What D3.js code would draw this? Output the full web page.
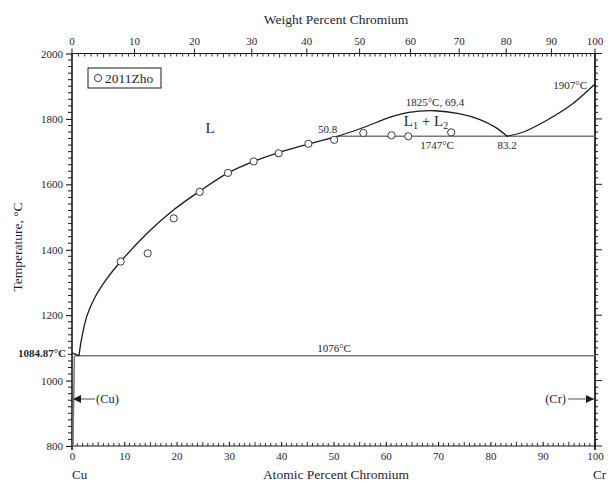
<!DOCTYPE html>
<html>
<head>
<meta charset="utf-8">
<script src="https://cdn.jsdelivr.net/npm/d3@7"></script>
<style>
  body { margin: 0; background: #fff; }
  svg text { font-family: "Liberation Serif", "DejaVu Serif", serif; fill: #1e1e38; }
</style>
</head>
<body>
<svg id="chart" width="611" height="484"></svg>
<script>
// Cu–Cr phase diagram: temperature vs. atomic percent chromium

// Axis ticks
const atomicTicks = [0, 10, 20, 30, 40, 50, 60, 70, 80, 90, 100];
const weightTicks = [0, 10, 20, 30, 40, 50, 60, 70, 80, 90, 100];
const tempTicks = [800, 1000, 1200, 1400, 1600, 1800, 2000];

// Atomic masses for the weight-percent scale
const massCu = 63.546;
const massCr = 51.996;

// Phase boundaries as [at.% Cr, °C]
const cuMeltSegment = [[0, 1084.87], [1.34, 1076]];
const cuSolvus = [[0.45, 1076], [0.35, 960], [0.25, 880], [0.2, 800]];
const liquidusCu = [[1.34, 1076], [1.8, 1125], [2.9, 1200], [4.5, 1258], [6.5, 1308],
  [9.31, 1364], [14.47, 1452], [19.45, 1522], [24.42, 1579], [29.83, 1635],
  [34.74, 1670], [39.52, 1697], [45.2, 1723], [50.8, 1747]];
const gapDome = [[50.8, 1747], [55.6, 1773], [61, 1806], [64.4, 1820], [69.4, 1825],
  [74, 1816], [78, 1798], [80.9, 1775], [83.2, 1747]];
const liquidusCr = [[83.2, 1747], [86.3, 1760], [90.8, 1796], [95.2, 1840], [100, 1907]];

// Invariant lines
const monotecticT = 1747;
const monotecticStart = 50.8;
const eutecticT = 1076;
const eutecticStart = 0.45;

// 2011Zho measurements [at.% Cr, °C]
const zhoX = [9.31, 14.47, 19.45, 24.42, 29.83, 34.74, 39.52, 45.2, 50.13, 55.7, 61.1, 64.3, 72.5];
const zhoT = [1364, 1389, 1496, 1577, 1635, 1670, 1695, 1724, 1736, 1757, 1750, 1747, 1759];

const svg = d3.select("#chart");
const x = d3.scaleLinear().domain([0, 100]).range([72, 595]);
const y = d3.scaleLinear().domain([800, 2000]).range([446, 53.5]);

const wtToAt = w => (w / massCr) / ((w / massCr) + ((100 - w) / massCu)) * 100;

const ink = "#1b1b1b";
const grey = "#7a7a7a";

// ---- Axes frame ----
// Left temperature axis
const left = svg.append("g").attr("transform", `translate(${x(0)},0)`)
  .call(d3.axisLeft(y).tickValues(tempTicks).tickSize(6).tickPadding(3).tickFormat(d3.format("d")));
left.selectAll("text").attr("font-size", 11);
left.select(".domain").remove();
svg.append("g").selectAll("line").data(d3.range(800, 2001, 20).filter(t => t % 200 !== 0)).join("line")
  .attr("x1", x(0) - 4).attr("x2", x(0)).attr("y1", d => y(d)).attr("y2", d => y(d))
  .attr("stroke", ink).attr("stroke-width", 1);

// Right axis ticks
svg.append("g").selectAll("line").data(d3.range(800, 2001, 20)).join("line")
  .attr("x1", x(100)).attr("x2", d => x(100) + (d % 200 === 0 ? 7 : 3))
  .attr("y1", d => y(d)).attr("y2", d => y(d))
  .attr("stroke", ink).attr("stroke-width", 1);

// Bottom atomic percent axis
const bottom = svg.append("g").attr("transform", `translate(0,${y(800)})`)
  .call(d3.axisBottom(x).tickValues(atomicTicks).tickSize(-4).tickPadding(6).tickFormat(d3.format("d")));
bottom.selectAll("text").attr("font-size", 11);
bottom.select(".domain").remove();
svg.append("g").selectAll("line").data(d3.range(0, 101, 1).filter(v => v % 10 !== 0)).join("line")
  .attr("x1", d => x(d)).attr("x2", d => x(d))
  .attr("y1", y(800)).attr("y2", d => y(800) - (d % 5 === 0 ? 4 : 3))
  .attr("stroke", ink).attr("stroke-width", 0.9);

// Top weight percent axis
const topG = svg.append("g");
topG.selectAll("line.maj").data(weightTicks).join("line").attr("class", "maj")
  .attr("x1", d => x(wtToAt(d))).attr("x2", d => x(wtToAt(d)))
  .attr("y1", y(2000) - 5).attr("y2", y(2000) + 3)
  .attr("stroke", ink).attr("stroke-width", 1);
topG.selectAll("line.min").data(d3.range(0, 101, 1).filter(v => v % 10 !== 0)).join("line").attr("class", "min")
  .attr("x1", d => x(wtToAt(d))).attr("x2", d => x(wtToAt(d)))
  .attr("y1", y(2000)).attr("y2", d => y(2000) + (d % 5 === 0 ? 4 : 3))
  .attr("stroke", ink).attr("stroke-width", 0.9);
topG.selectAll("text").data(weightTicks).join("text")
  .attr("x", d => x(wtToAt(d))).attr("y", y(2000) - 9)
  .attr("text-anchor", "middle").attr("font-size", 11).text(d => d);

// Frame lines
svg.append("line").attr("x1", x(0)).attr("x2", x(100)).attr("y1", y(2000)).attr("y2", y(2000))
  .attr("stroke", ink).attr("stroke-width", 1.2);
svg.append("line").attr("x1", x(0)).attr("x2", x(100)).attr("y1", y(800)).attr("y2", y(800))
  .attr("stroke", ink).attr("stroke-width", 1.2);
svg.append("line").attr("x1", x(0)).attr("x2", x(0)).attr("y1", y(800) + 4).attr("y2", y(2000))
  .attr("stroke", ink).attr("stroke-width", 1.6);
svg.append("line").attr("x1", x(100)).attr("x2", x(100)).attr("y1", y(800) + 4).attr("y2", y(2000))
  .attr("stroke", ink).attr("stroke-width", 1.8);

// ---- Axis titles ----
svg.append("text").attr("x", 336).attr("y", 24).attr("text-anchor", "middle")
  .attr("font-size", 13.5).text("Weight Percent Chromium");
svg.append("text").attr("x", 336).attr("y", 479).attr("text-anchor", "middle")
  .attr("font-size", 13.5).text("Atomic Percent Chromium");
svg.append("text").attr("transform", "translate(22,247) rotate(-90)").attr("text-anchor", "middle")
  .attr("font-size", 13.5).text("Temperature, °C");
svg.append("text").attr("x", 72).attr("y", 479).attr("font-size", 13).text("Cu");
svg.append("text").attr("x", 593).attr("y", 479).attr("font-size", 13).text("Cr");

// ---- Invariant horizontals ----
svg.append("line").attr("x1", x(eutecticStart)).attr("x2", x(100))
  .attr("y1", y(eutecticT)).attr("y2", y(eutecticT))
  .attr("stroke", grey).attr("stroke-width", 1.5);
svg.append("line").attr("x1", x(monotecticStart)).attr("x2", x(100))
  .attr("y1", y(monotecticT)).attr("y2", y(monotecticT))
  .attr("stroke", grey).attr("stroke-width", 1.5);

// ---- Phase boundary curves ----
const line = d3.line().x(d => x(d[0])).y(d => y(d[1]));
const smooth = d3.line().x(d => x(d[0])).y(d => y(d[1])).curve(d3.curveCatmullRom.alpha(0.5));
svg.append("path").attr("d", line(cuMeltSegment)).attr("fill", "none").attr("stroke", ink).attr("stroke-width", 1.3);
svg.append("path").attr("d", smooth(cuSolvus)).attr("fill", "none").attr("stroke", grey).attr("stroke-width", 1.5);
svg.append("path").attr("d", smooth(liquidusCu)).attr("fill", "none").attr("stroke", ink).attr("stroke-width", 1.3);
svg.append("path").attr("d", smooth(gapDome)).attr("fill", "none").attr("stroke", ink).attr("stroke-width", 1.3);
svg.append("path").attr("d", smooth(liquidusCr)).attr("fill", "none").attr("stroke", ink).attr("stroke-width", 1.3);

// ---- Measurements ----
svg.append("g").selectAll("circle").data(zhoX.map((v, i) => [v, zhoT[i]])).join("circle")
  .attr("cx", d => x(d[0])).attr("cy", d => y(d[1])).attr("r", 3.6)
  .attr("fill", "#fff").attr("stroke", "#3a3a3a").attr("stroke-width", 1);

// ---- Legend ----
svg.append("rect").attr("x", 88).attr("y", 68).attr("width", 73).attr("height", 20)
  .attr("fill", "#fff").attr("stroke", ink).attr("stroke-width", 1);
svg.append("circle").attr("cx", 98).attr("cy", 78).attr("r", 3.6)
  .attr("fill", "#fff").attr("stroke", "#3a3a3a").attr("stroke-width", 1);
svg.append("text").attr("x", 105).attr("y", 83).attr("font-size", 13.5).text("2011Zho");

// ---- Annotations ----
const lab = (tx, ty, s, size, anchor) => svg.append("text").attr("x", tx).attr("y", ty)
  .attr("text-anchor", anchor || "middle").attr("font-size", size || 11).text(s);

lab(210, 133, "L", 15);
const l12 = svg.append("text").attr("x", 426).attr("y", 126).attr("text-anchor", "middle").attr("font-size", 15);
l12.append("tspan").text("L");
l12.append("tspan").attr("font-size", 10).attr("dy", 3).text("1");
l12.append("tspan").attr("dy", -3).text(" + L");
l12.append("tspan").attr("font-size", 10).attr("dy", 3).text("2");

lab(x(69.4), 106, `1825°C, ${69.4}`, 11);
lab(x(50.8) - 10, 133, `${50.8}`, 11);
lab(437, 149, `${monotecticT}°C`, 11);
lab(x(83.2), 149, `${83.2}`, 11);
lab(587, 89, "1907°C", 11, "end");
lab(334, 352, `${eutecticT}°C`, 11);
svg.append("text").attr("x", 66).attr("y", 356.5).attr("text-anchor", "end")
  .attr("font-size", 11).attr("font-weight", "bold").text("1084.87°C");

// Phase region arrows
const defs = svg.append("defs");
defs.append("marker").attr("id", "head").attr("viewBox", "0 0 10 10").attr("refX", 10).attr("refY", 5)
  .attr("markerWidth", 10).attr("markerHeight", 8).attr("markerUnits", "userSpaceOnUse").attr("orient", "auto")
  .append("path").attr("d", "M0,0L10,5L0,10Z").attr("fill", ink);
svg.append("line").attr("x1", 95).attr("x2", 73).attr("y1", 399).attr("y2", 399)
  .attr("stroke", grey).attr("stroke-width", 1.3).attr("marker-end", "url(#head)");
lab(96, 403, "(Cu)", 12.5, "start");
svg.append("line").attr("x1", 568).attr("x2", 594).attr("y1", 399).attr("y2", 399)
  .attr("stroke", grey).attr("stroke-width", 1.3).attr("marker-end", "url(#head)");
lab(566, 403, "(Cr)", 12.5, "end");
</script>
</body>
</html>
